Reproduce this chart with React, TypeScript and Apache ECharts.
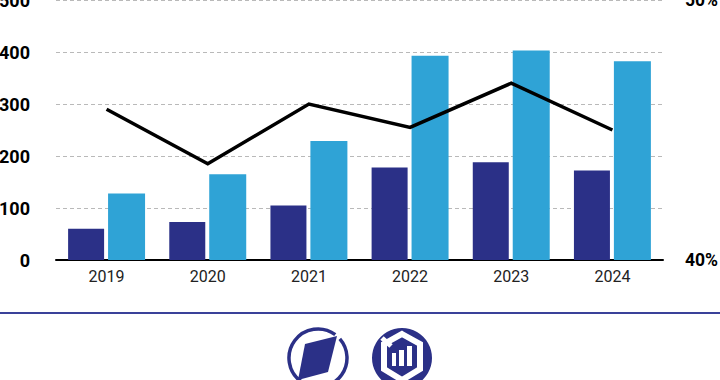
import React, { useEffect, useRef } from "react";
import * as echarts from "echarts";

const years = ["2019", "2020", "2021", "2022", "2023", "2024"];
const darkBars = [60, 73, 105, 178, 188, 172];
const lightBars = [128, 165, 229, 393, 403, 382];
const ratio = [45.8, 43.7, 46, 45.1, 46.8, 45];
const navy = "#2b3087";
const fontFamily = "Roboto, sans-serif";

export default function App() {
  const ref = useRef<HTMLDivElement>(null);
  useEffect(() => {
    document.body.style.margin = "0";
    const chart = echarts.init(ref.current!, null, { renderer: "svg" });
    chart.setOption({
      animation: false,
      grid: { left: 56, right: 57, top: 0, height: 260, containLabel: false, outerBoundsMode: "none" },
      xAxis: {
        type: "category",
        data: years,
        axisTick: { show: false },
        axisLine: { lineStyle: { color: "#000", width: 2 } },
        axisLabel: { color: "#222", fontSize: 16, fontFamily, margin: 8 },
      },
      yAxis: [
        {
          type: "value", min: 0, max: 500, interval: 100,
          axisLine: { show: false }, axisTick: { show: false },
          axisLabel: { color: "#000", fontSize: 18, fontWeight: "bold", fontFamily, margin: 26, hideOverlap: false, padding: [4, 0, 0, 0] },
          splitLine: { lineStyle: { color: "#b9b9b9", type: [4, 3], width: 1 } },
        },
        {
          type: "value", min: 40, max: 50, interval: 10,
          axisLine: { show: false }, axisTick: { show: false },
          axisLabel: { color: "#000", fontSize: 17.5, fontWeight: "bold", fontFamily, margin: 22, formatter: "{value}%", padding: [4, 0, 0, 0] },
          splitLine: { show: false },
        },
      ],
      series: [
        { type: "bar", data: darkBars, barWidth: 36, barGap: "11%", itemStyle: { color: navy } },
        { type: "bar", data: lightBars, barWidth: 37, itemStyle: { color: "#2fa3d6" } },
        {
          type: "line", yAxisIndex: 1, data: ratio, showSymbol: false, symbol: "none", z: 5,
          lineStyle: { color: "#000", width: 3.5, cap: "butt", join: "miter" },
        },
      ],
      graphic: [
        { type: "line", shape: { x1: 0, y1: 313, x2: 720, y2: 313 }, style: { stroke: "#3a4199", lineWidth: 2 } },
        { type: "arc", shape: { cx: 318, cy: 358, r: 29, startAngle: -0.72, endAngle: 1.95 }, style: { stroke: navy, fill: "none", lineWidth: 3.5 } },
        { type: "arc", shape: { cx: 318, cy: 358, r: 29, startAngle: 2.2, endAngle: 5.35 }, style: { stroke: navy, fill: "none", lineWidth: 3.5 } },
        { type: "polygon", shape: { points: [[305, 344], [337, 336], [328, 372], [298, 380]] }, style: { fill: navy } },
        { type: "circle", shape: { cx: 402, cy: 358, r: 30 }, style: { fill: navy } },
        { type: "polygon", shape: { points: [[402, 334], [420, 344], [420, 369], [402, 380], [384, 369], [384, 344]] }, style: { fill: "none", stroke: "#fff", lineWidth: 6 } },
        { type: "line", shape: { x1: 382, y1: 338, x2: 391, y2: 346 }, style: { stroke: "#fff", lineWidth: 5 } },
        { type: "rect", shape: { x: 392, y: 353, width: 4, height: 13 }, style: { fill: "#fff" } },
        { type: "rect", shape: { x: 399, y: 350, width: 5, height: 16 }, style: { fill: "#fff" } },
        { type: "rect", shape: { x: 407, y: 346, width: 5, height: 20 }, style: { fill: "#fff" } },
      ],
    });
    return () => chart.dispose();
  }, []);
  return <div ref={ref} style={{ width: 720, height: 380 }} />;
}
